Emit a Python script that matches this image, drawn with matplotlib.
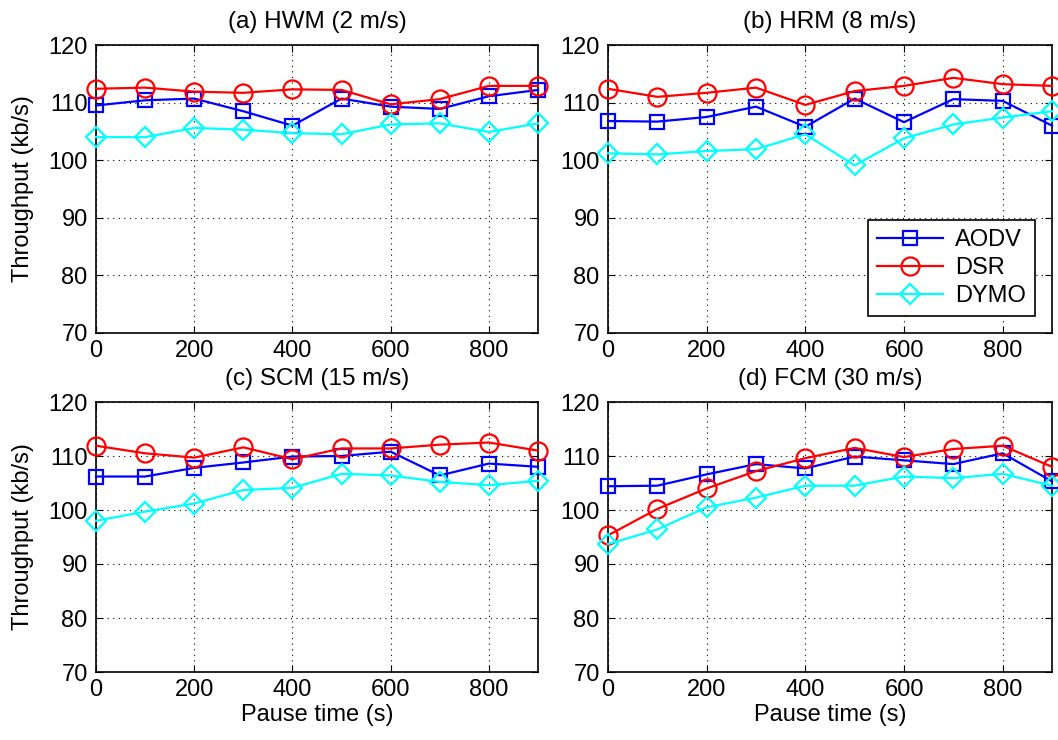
import numpy as np
import matplotlib
matplotlib.use("Agg")
import matplotlib.pyplot as plt

plt.rcParams['font.family'] = ['Liberation Sans', 'DejaVu Sans']

# --- data ---
pause = [0, 100, 200, 300, 400, 500, 600, 700, 800, 900]
protocols = ["AODV", "DSR", "DYMO"]

titles = ["(a) HWM (2 m/s)", "(b) HRM (8 m/s)", "(c) SCM (15 m/s)", "(d) FCM (30 m/s)"]

aodv_a = [109.5, 110.4, 110.7, 108.5, 106.0, 110.7, 109.3, 108.9, 111.1, 112.2]
dsr_a = [112.4, 112.6, 111.9, 111.7, 112.3, 112.2, 109.7, 110.6, 112.9, 112.9]
dymo_a = [104.0, 104.0, 105.6, 105.3, 104.7, 104.5, 106.2, 106.4, 104.9, 106.4]

aodv_b = [106.8, 106.7, 107.5, 109.3, 105.8, 110.7, 106.6, 110.6, 110.3, 106.0]
dsr_b = [112.4, 111.0, 111.7, 112.6, 109.6, 112.0, 112.9, 114.3, 113.2, 112.9]
dymo_b = [101.2, 101.0, 101.6, 101.9, 104.5, 99.1, 103.8, 106.2, 107.4, 108.5]

aodv_c = [106.2, 106.2, 107.8, 108.8, 109.9, 110.0, 110.8, 106.4, 108.6, 108.0]
dsr_c = [111.9, 110.5, 109.7, 111.6, 109.4, 111.4, 111.4, 112.1, 112.5, 111.0]
dymo_c = [98.0, 99.7, 101.2, 103.7, 104.1, 106.7, 106.4, 105.2, 104.6, 105.4]

aodv_d = [104.4, 104.5, 106.6, 108.5, 107.7, 109.9, 109.2, 108.5, 110.5, 105.3]
dsr_d = [95.3, 100.2, 104.0, 107.2, 109.6, 111.5, 109.8, 111.3, 111.9, 108.0]
dymo_d = [93.7, 96.4, 100.5, 102.3, 104.5, 104.5, 106.2, 105.9, 106.7, 104.5]

panels = [
    (aodv_a, dsr_a, dymo_a),
    (aodv_b, dsr_b, dymo_b),
    (aodv_c, dsr_c, dymo_c),
    (aodv_d, dsr_d, dymo_d),
]

styles = [
    dict(color="#0000ff", marker="s", ms=10),
    dict(color="#ff0000", marker="o", ms=13),
    dict(color="#00ffff", marker="D", ms=10),
]

# axes boxes in figure fractions [left, bottom, width, height]
W, H = 1058, 740
boxes = [
    [96 / W, 1 - 333 / H, 442 / W, 288 / H],
    [608 / W, 1 - 333 / H, 444 / W, 288 / H],
    [96 / W, 1 - 672 / H, 442 / W, 270 / H],
    [608 / W, 1 - 672 / H, 444 / W, 270 / H],
]

fig = plt.figure(figsize=(W / 100, H / 100), dpi=100)
fs = 17

for i, (series, title) in enumerate(zip(panels, titles)):
    ax = fig.add_axes(boxes[i])
    for vals, name, st in zip(series, protocols, styles):
        ax.plot(pause, vals, color=st["color"], marker=st["marker"], ms=st["ms"],
                mfc="none", mec=st["color"], mew=1.6, lw=1.6, label=name,
                clip_on=False, zorder=3)
    ax.set_xlim(0, 900)
    ax.set_ylim(70, 120)
    ax.set_xticks([0, 200, 400, 600, 800])
    ax.set_yticks([70, 80, 90, 100, 110, 120])
    ax.grid(True, color="black", linestyle=(0, (1, 4)), linewidth=0.8)
    ax.tick_params(direction="in", top=True, right=True, labelsize=fs, length=5)
    ax.tick_params(axis="y", pad=6)
    ax.tick_params(axis="x", pad=5)
    for sp in ax.spines.values():
        sp.set_linewidth(1.2)
    ax.set_title(title, fontsize=17.5, pad=12)
    if i % 2 == 0:
        ax.set_ylabel("Throughput (kb/s)", fontsize=fs, labelpad=10)
    if i >= 2:
        ax.set_xlabel("Pause time (s)", fontsize=fs, labelpad=2)
    if i == 1:
        leg = ax.legend(loc="lower right", fontsize=fs, fancybox=False, framealpha=1,
                        edgecolor="black", handlelength=2.8, borderpad=0.4,
                        labelspacing=0.25, handletextpad=0.5, borderaxespad=0.7)
        leg.get_frame().set_linewidth(1.2)

fig.savefig("out.png", dpi=100)
